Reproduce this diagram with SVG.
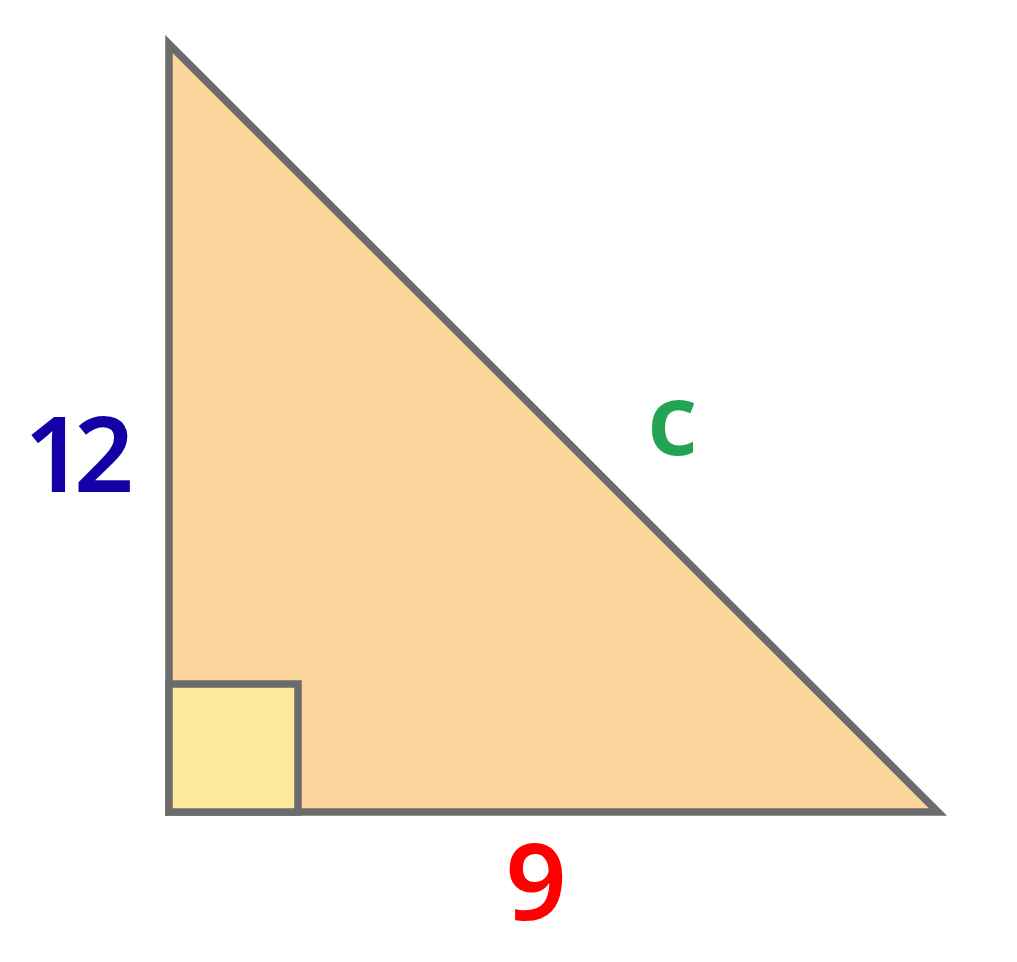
<svg xmlns="http://www.w3.org/2000/svg" width="1017" height="962" viewBox="0 0 1017 962">
<style>
.edge{stroke:#6b6b6b;stroke-width:7.5;stroke-linejoin:miter;stroke-miterlimit:10}
.lbl{font-family:"Noto Sans","Open Sans","Liberation Sans",sans-serif;font-weight:600;text-anchor:middle}
</style>
<rect width="1017" height="962" fill="#ffffff"/>
<g id="triangle">
<polygon class="edge" points="169,44 169,812 938,812" fill="#fdd69e"/>
</g>
<g id="right-angle">
<rect class="edge" x="169" y="684" width="129" height="128" fill="#fce99c"/>
</g>
<g id="label-12"><text class="lbl" x="74" y="492" font-size="105" letter-spacing="-10" fill="#1500a8">12</text></g>
<g id="label-c"><text class="lbl" x="672" y="455" font-size="100" fill="#22a454">c</text></g>
<g id="label-9"><text class="lbl" x="536" y="920" font-size="107" fill="#ff0000">9</text></g>
</svg>
